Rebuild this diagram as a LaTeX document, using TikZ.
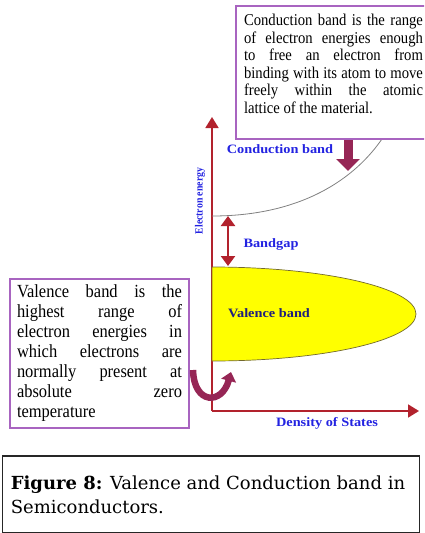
\documentclass[tikz,border=0pt]{standalone}
\usepackage{fontspec}
\setmainfont{Liberation Serif}
\newfontfamily\boxtextfont[FakeStretch=0.89]{Liberation Serif}
\newfontfamily\bandfont[FakeStretch=1.12]{Liberation Serif}
\newfontfamily\figfont{DejaVu Serif}
\usetikzlibrary{arrows.meta, positioning}

\definecolor{axisred}{RGB}{178,34,45}
\definecolor{labelblue}{RGB}{35,35,225}
\definecolor{bandnavy}{RGB}{30,30,125}
\definecolor{notepurple}{RGB}{168,100,192}
\definecolor{arrowplum}{RGB}{150,38,85}
\definecolor{bandedge}{RGB}{115,105,45}
\definecolor{bandyellow}{RGB}{255,255,0}

\newcommand{\spreadline}[1]{\makebox[\linewidth][s]{#1}\\}

\begin{document}
\begin{tikzpicture}[x=1pt, y=-1pt,
    axis/.style={axisred, line width=1.8pt, -{Triangle[width=13pt, length=11pt]}},
    gaparrow/.style={axisred, line width=2.4pt, {Triangle[width=14pt, length=10pt]}-{Triangle[width=14pt, length=10pt]}},
    blockarrow/.style={arrowplum, line width=9pt, -{Triangle[width=23pt, length=12pt]}},
    bandlabel/.style={labelblue, font=\bandfont\bfseries\fontsize{12.8}{14}\selectfont, inner sep=0pt},
    note/.style={draw=notepurple, line width=2pt, fill=white, anchor=north west, inner xsep=7pt, inner ysep=6pt},
]
    \useasboundingbox (0,0) rectangle (424,533);
    \clip (0,0) rectangle (424,533);

    % Axes
    \coordinate (origin) at (212,411);
    \coordinate (etop) at (212,117);
    \coordinate (dright) at (419,411);
    \draw[axis] (origin) -- (etop);
    \draw[axis] (origin) -- (dright);
    \node[bandlabel, font=\boxtextfont\bfseries\fontsize{11}{12}\selectfont, rotate=90] (elabel) at (200,201) {Electron energy};
    \node[bandlabel] (doslabel) at (327,423) {Density of States};

    % Conduction band edge
    \coordinate (cbedge) at (212,216);
    \draw[gray, line width=0.8pt] (cbedge) .. controls (300,216) and (355,180) .. (384,136);
    \node[bandlabel] (cblabel) at (280,149) {Conduction band};

    % Valence band
    \coordinate (vbtop) at (212,267);
    \draw[bandedge, line width=0.7pt, fill=bandyellow] (vbtop)
        arc[start angle=90, end angle=-90, x radius=204pt, y radius=47pt] -- cycle;
    \node[bandlabel, text=bandnavy] (vblabel) at (269,313) {Valence band};

    % Bandgap
    \coordinate (gapup) at (228,216);
    \coordinate (gapdown) at (228,266);
    \draw[gaparrow] (gapup) -- (gapdown);
    \node[bandlabel] (gaplabel) at (271,244) {Bandgap};

    % Notes
    \node[note, inner xsep=8pt, inner ysep=8.5pt] (cbnote) at (235,5)
        {\boxtextfont\fontsize{16.5}{17.5}\selectfont\parbox[c][116pt][t]{179pt}{%
        \spreadline{Conduction band is the range}
        \spreadline{of electron energies enough}
        \spreadline{to free an electron from}
        \spreadline{binding with its atom to move}
        \spreadline{freely within the atomic}
        lattice of the material.}};
    \node[note] (vbnote) at (9,278)
        {\boxtextfont\fontsize{18.5}{20}\selectfont\parbox{165pt}{%
        \spreadline{Valence band is the}
        \spreadline{highest range of}
        \spreadline{electron energies in}
        \spreadline{which electrons are}
        \spreadline{normally present at}
        \spreadline{absolute zero}
        temperature}};

    % Arrows from the notes
    \coordinate (cbtip) at (348,171);
    \draw[blockarrow] (cbnote.south -| cbtip) -- (cbtip);
    \coordinate (ustart) at (193,370);
    \coordinate (uend) at (231,372);
    \draw[arrowplum, line width=6.5pt, -{Triangle[width=15pt, length=9pt]}]
        (ustart) .. controls (194,405) and (222,405) .. (uend);

    % Caption
    \node[draw=black!85, line width=1.6pt, anchor=north west, inner xsep=8.5pt, minimum height=77pt] (caption) at (1.5,455)
        {\figfont\fontsize{18}{24}\selectfont\parbox{400pt}{\textbf{Figure 8:} Valence and Conduction band in\\ Semiconductors.}};
\end{tikzpicture}
\end{document}
